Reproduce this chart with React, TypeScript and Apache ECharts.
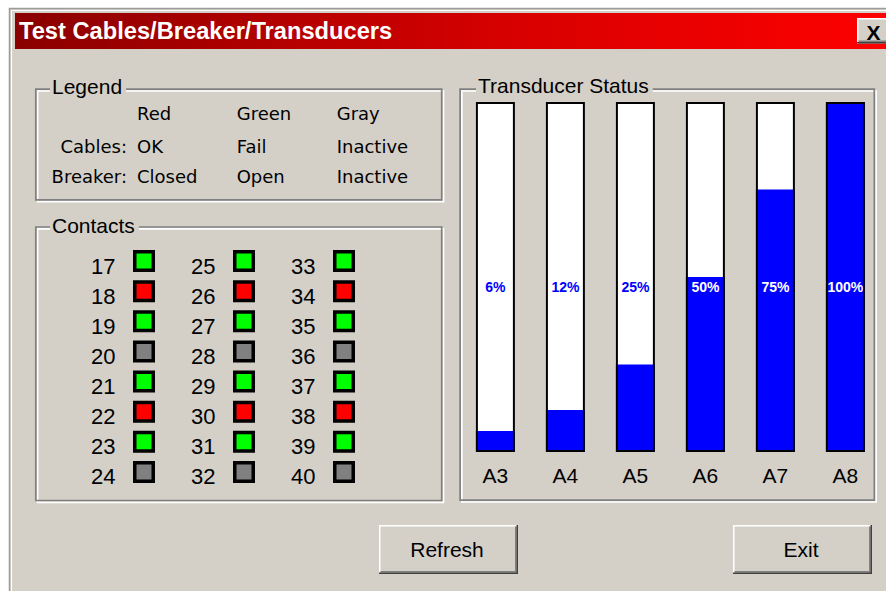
import React, { useEffect, useRef } from "react";
import * as echarts from "echarts";

// ---------- data ----------
const windowTitle = "Test Cables/Breaker/Transducers";

const transducerNames = ["A3", "A4", "A5", "A6", "A7", "A8"];
const transducerPercent = [6, 12, 25, 50, 75, 100];
const transducerFullScale = [100, 100, 100, 100, 100, 100];

const contactNumbers = [
  17, 18, 19, 20, 21, 22, 23, 24,
  25, 26, 27, 28, 29, 30, 31, 32,
  33, 34, 35, 36, 37, 38, 39, 40,
];
const contactStates = [
  "green", "red", "green", "gray", "green", "red", "green", "gray",
  "green", "red", "green", "gray", "green", "red", "green", "gray",
  "green", "red", "green", "gray", "green", "red", "green", "gray",
];

const legendColumns = ["Red", "Green", "Gray"];
const legendRowNames = ["Cables:", "Breaker:"];
const cablesMeaning = ["OK", "Fail", "Inactive"];
const breakerMeaning = ["Closed", "Open", "Inactive"];
const groupTitles = ["Legend", "Contacts", "Transducer Status"];
const buttonLabels = ["Refresh", "Exit"];

// ---------- styles ----------
const FACE = "#d4d0c8";
const GRAY = "#808080";
const DARK = "#404040";
const SANS = "'Liberation Sans', Arial, sans-serif";
const DJV = "'DejaVu Sans', Verdana, sans-serif";
const stateColor: Record<string, string> = {
  green: "#00ff00",
  red: "#ff0000",
  gray: "#808080",
};

function etchedBox(x: number, y: number, w: number, h: number, title: string, tx: number, ty: number) {
  return [
    { type: "rect", z: 1, shape: { x: x + 1.8, y: y + 1.8, width: w, height: h }, style: { fill: "none", stroke: "#ffffff", lineWidth: 1.7 } },
    { type: "rect", z: 1, shape: { x, y, width: w, height: h }, style: { fill: "none", stroke: GRAY, lineWidth: 1.7 } },
    {
      type: "text", z: 2, x: tx - 2, y: ty,
      style: {
        text: title, fill: "#000", font: `21px ${SANS}`, verticalAlign: "middle", align: "left",
        backgroundColor: FACE, padding: [2, 4, 2, 2],
      },
    },
  ];
}

function button(x: number, y: number, w: number, h: number, label: string) {
  return [
    { type: "rect", z: 1, shape: { x, y, width: w, height: h }, style: { fill: FACE } },
    { type: "line", z: 2, shape: { x1: x, y1: y + 0.75, x2: x + w, y2: y + 0.75 }, style: { stroke: "#ffffff", lineWidth: 1.5 } },
    { type: "line", z: 2, shape: { x1: x + 0.75, y1: y, x2: x + 0.75, y2: y + h }, style: { stroke: "#ffffff", lineWidth: 1.5 } },
    { type: "line", z: 2, shape: { x1: x + 1.5, y1: y + h - 2.25, x2: x + w - 1.5, y2: y + h - 2.25 }, style: { stroke: GRAY, lineWidth: 1.5 } },
    { type: "line", z: 2, shape: { x1: x + w - 2.25, y1: y + 1.5, x2: x + w - 2.25, y2: y + h - 1.5 }, style: { stroke: GRAY, lineWidth: 1.5 } },
    { type: "line", z: 3, shape: { x1: x, y1: y + h - 0.75, x2: x + w, y2: y + h - 0.75 }, style: { stroke: DARK, lineWidth: 1.5 } },
    { type: "line", z: 3, shape: { x1: x + w - 0.75, y1: y, x2: x + w - 0.75, y2: y + h }, style: { stroke: DARK, lineWidth: 1.5 } },
    {
      type: "text", z: 4, x: x + w / 2 - 1.5, y: y + h / 2 - 0.5,
      style: { text: label, fill: "#000", font: `21px ${SANS}`, align: "center", verticalAlign: "middle" },
    },
  ];
}

function buildOption() {
  const legendColX = [137, 236.7, 336.7];
  const legendRowY = [113.7, 146.7, 176.7];
  const legendTexts: any[] = [];
  legendColumns.forEach((t, i) =>
    legendTexts.push({ type: "text", z: 2, x: legendColX[i], y: legendRowY[0], style: { text: t, fill: "#000", font: `18px ${DJV}`, align: "left", verticalAlign: "middle" } })
  );
  [cablesMeaning, breakerMeaning].forEach((row, r) => {
    legendTexts.push({ type: "text", z: 2, x: 127, y: legendRowY[r + 1], style: { text: legendRowNames[r], fill: "#000", font: `18px ${DJV}`, align: "right", verticalAlign: "middle" } });
    row.forEach((t, i) =>
      legendTexts.push({ type: "text", z: 2, x: legendColX[i], y: legendRowY[r + 1], style: { text: t, fill: "#000", font: `18px ${DJV}`, align: "left", verticalAlign: "middle" } })
    );
  });

  const graphic: any[] = [
    // window body
    { type: "rect", z: 0, shape: { x: 9.5, y: 8.5, width: 900, height: 600 }, style: { fill: FACE, stroke: "#9c9c9c", lineWidth: 1.5 } },
    { type: "line", z: 0, shape: { x1: 11.5, y1: 10.5, x2: 11.5, y2: 600 }, style: { stroke: "#ffffff", lineWidth: 1.2 } },
    { type: "line", z: 0, shape: { x1: 11.5, y1: 10.5, x2: 900, y2: 10.5 }, style: { stroke: "#ffffff", lineWidth: 1.2 } },
    // title bar
    {
      type: "rect", z: 1, shape: { x: 15, y: 13, width: 880, height: 36 },
      style: {
        fill: new echarts.graphic.LinearGradient(0, 0, 1, 0, [
          { offset: 0, color: "#8a0000" },
          { offset: 0.55, color: "#d60000" },
          { offset: 1, color: "#ff0000" },
        ]),
      },
    },
    {
      type: "text", z: 2, x: 19, y: 31, scaleX: 1.03,
      style: { text: windowTitle, fill: "#ffffff", font: `bold 23px ${SANS}`, align: "left", verticalAlign: "middle" },
    },
    // close button
    { type: "rect", z: 2, shape: { x: 857, y: 18, width: 32, height: 25.5 }, style: { fill: FACE } },
    { type: "line", z: 3, shape: { x1: 857, y1: 18.75, x2: 889, y2: 18.75 }, style: { stroke: "#ffffff", lineWidth: 1.5 } },
    { type: "line", z: 3, shape: { x1: 857.75, y1: 18, x2: 857.75, y2: 43.5 }, style: { stroke: "#ffffff", lineWidth: 1.5 } },
    { type: "line", z: 3, shape: { x1: 857, y1: 42.75, x2: 889, y2: 42.75 }, style: { stroke: DARK, lineWidth: 1.5 } },
    { type: "line", z: 3, shape: { x1: 858.5, y1: 41.25, x2: 889, y2: 41.25 }, style: { stroke: GRAY, lineWidth: 1.5 } },
    { type: "text", z: 4, x: 873.5, y: 32, style: { text: "X", fill: "#000", font: `bold 21px ${SANS}`, align: "center", verticalAlign: "middle" } },
    // group boxes
    ...etchedBox(35.8, 89.2, 405.9, 110.6, groupTitles[0], 52, 86.5),
    ...etchedBox(35.8, 227.0, 405.9, 273.5, groupTitles[1], 52, 225.5),
    ...etchedBox(460.1, 89.2, 414.2, 411.0, groupTitles[2], 478, 85.5),
    ...legendTexts,
    // buttons
    ...button(379, 525, 139, 49, buttonLabels[0]),
    ...button(733, 525, 139, 49, buttonLabels[1]),
  ];

  return {
    animation: false,
    backgroundColor: "#ffffff",
    graphic,
    grid: [
      { left: 460.4, width: 420, top: 102, height: 350, containLabel: false },
      { left: 94, width: 300, top: 246, height: 241, containLabel: false },
    ],
    xAxis: [
      {
        gridIndex: 0, type: "category", data: transducerNames,
        axisLine: { show: false }, axisTick: { show: false }, splitLine: { show: false },
        axisLabel: { color: "#000", fontFamily: SANS, fontSize: 21, margin: 23, verticalAlign: "middle" },
      },
      { gridIndex: 1, type: "value", min: -0.5, max: 2.5, show: false },
    ],
    yAxis: [
      { gridIndex: 0, type: "value", min: 0, max: 100, show: false },
      { gridIndex: 1, type: "value", min: -0.5, max: 7.5, inverse: true, show: false },
    ],
    series: [
      {
        type: "bar", xAxisIndex: 0, yAxisIndex: 0, barWidth: 39, barGap: "-100%", z: 2, silent: true,
        data: transducerFullScale, itemStyle: { color: "#ffffff" },
      },
      {
        type: "bar", xAxisIndex: 0, yAxisIndex: 0, barWidth: 39, barGap: "-100%", z: 3, silent: true,
        data: transducerPercent, itemStyle: { color: "#0000ff" },
      },
      {
        type: "bar", xAxisIndex: 0, yAxisIndex: 0, barWidth: 39, barGap: "-100%", z: 4, silent: true,
        data: transducerFullScale.map((v, i) => ({
          value: v,
          label: { color: transducerPercent[i] >= 47 ? "#ffffff" : "#0000ff" },
        })),
        itemStyle: { color: "rgba(0,0,0,0)", borderColor: "#000", borderWidth: 2 },
        label: {
          show: true, position: ["50%", "52.9%"], align: "center", verticalAlign: "middle",
          fontFamily: SANS, fontSize: 14, fontWeight: "bold",
          formatter: (p: any) => `${transducerPercent[p.dataIndex]}%`,
        },
      },
      {
        type: "scatter", xAxisIndex: 1, yAxisIndex: 1, symbol: "rect", symbolSize: 18.5, silent: true, z: 3,
        data: contactNumbers.map((n, i) => ({
          name: String(n),
          value: [Math.floor(i / 8), i % 8],
          itemStyle: { color: stateColor[contactStates[i]] },
        })),
        itemStyle: { borderColor: "#000", borderWidth: 3.5, opacity: 1 },
        label: {
          show: true, position: "left", distance: 17.5, offset: [0, 5],
          color: "#000", fontFamily: SANS, fontSize: 22,
          formatter: (p: any) => p.name,
        },
      },
    ],
  };
}

export default function App() {
  const ref = useRef<HTMLDivElement>(null);
  useEffect(() => {
    document.body.style.margin = "0";
    const chart = echarts.init(ref.current!, null, { renderer: "svg" });
    chart.setOption(buildOption() as any);
    return () => chart.dispose();
  }, []);
  return (
    <div
      ref={ref}
      style={{ position: "absolute", left: 0, top: 0, width: 886, height: 591, background: "#ffffff" }}
    />
  );
}
